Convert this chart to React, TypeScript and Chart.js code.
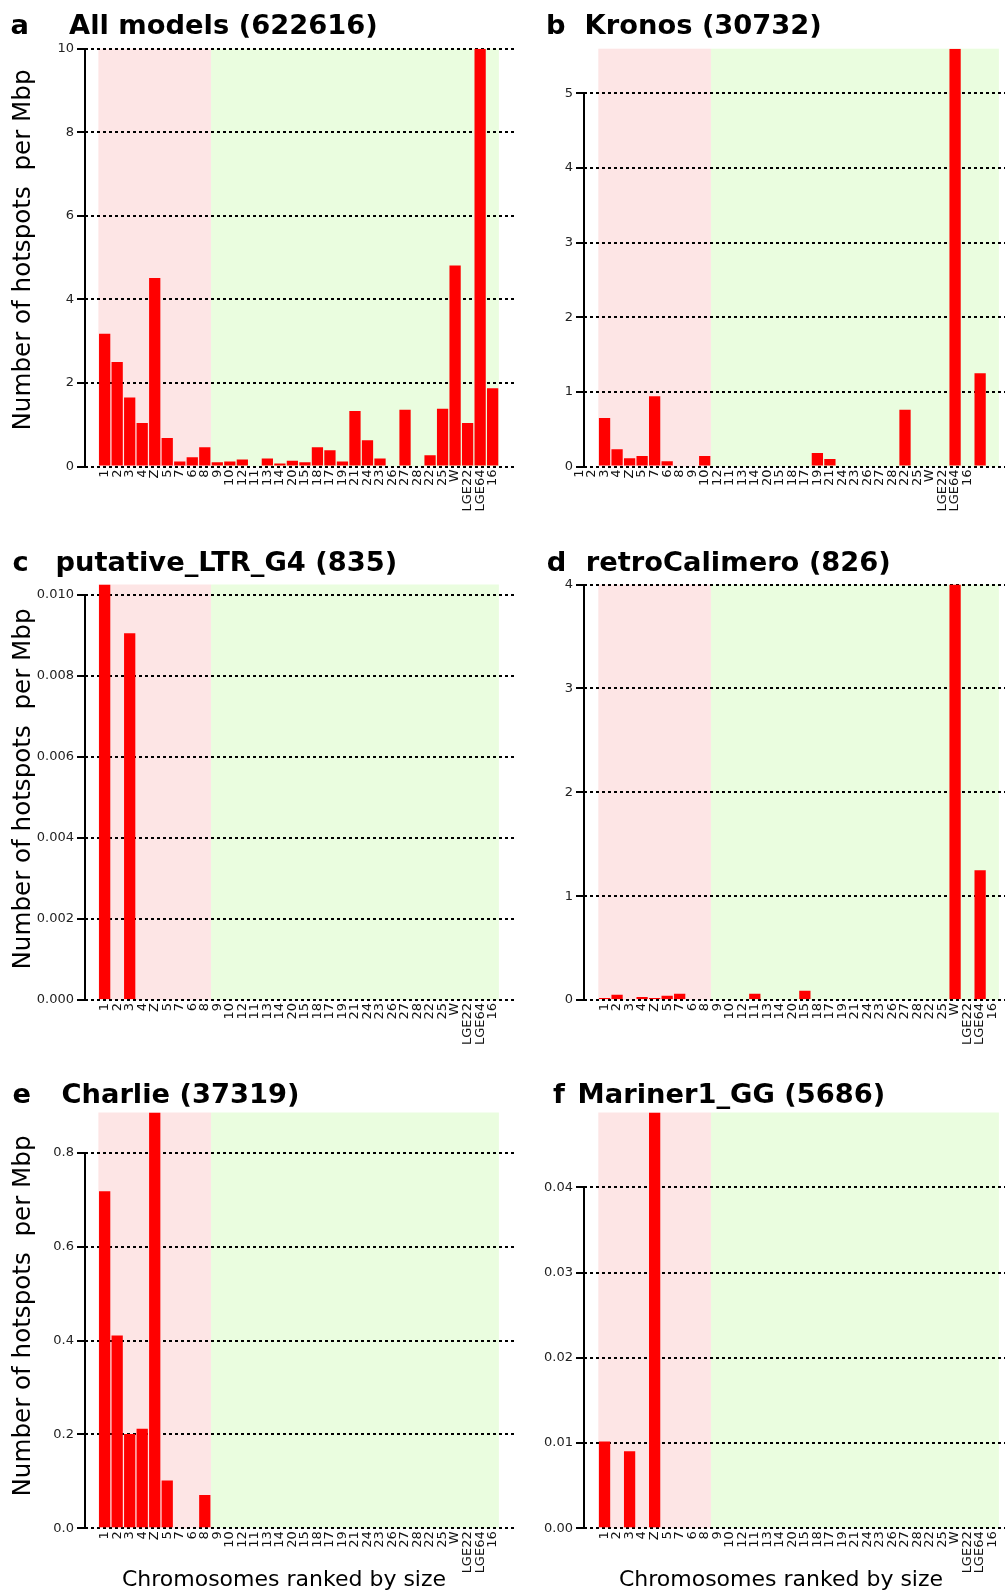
import React, { useEffect, useRef } from "react";
import { Chart, registerables } from "chart.js";

Chart.register(...registerables);
Chart.defaults.font.family = "'DejaVu Sans', Verdana, sans-serif";

// ---------------- data ----------------
const chromosomes = ["1", "2", "3", "4", "Z", "5", "7", "6", "8", "9", "10", "12", "11", "13", "14", "20", "15", "18", "17", "19", "21", "24", "23", "26", "27", "28", "22", "25", "W", "LGE22", "LGE64", "16"];
const macroChromosomeCount = 9; // pink zone: 1 .. 8 (incl. Z)

const panelLetters = ["a", "b", "c", "d", "e", "f"];
const panelNames = ["All models (622616)", "Kronos (30732)", "putative_LTR_G4 (835)", "retroCalimero (826)", "Charlie (37319)", "Mariner1_GG (5686)"];

const yAxisTitle = "Number of hotspots  per Mbp";
const xAxisTitle = "Chromosomes ranked by size";

const allModelsValues = [3.18, 2.5, 1.65, 1.04, 4.51, 0.68, 0.12, 0.22, 0.46, 0.1, 0.12, 0.17, 0, 0.19, 0.07, 0.14, 0.1, 0.46, 0.39, 0.12, 1.33, 0.63, 0.19, 0, 1.36, 0, 0.27, 1.38, 4.81, 1.04, 10, 1.87];
const kronosValues = [0.65, 0.23, 0.11, 0.14, 0.94, 0.07, 0, 0, 0.14, 0, 0, 0, 0, 0, 0, 0, 0, 0.18, 0.1, 0, 0, 0, 0, 0, 0.76, 0, 0, 0, 5.6, 0, 1.25, 0];
const putativeLtrG4Values = [0.01025, 0, 0.00905, 0, 0, 0, 0, 0, 0, 0, 0, 0, 0, 0, 0, 0, 0, 0, 0, 0, 0, 0, 0, 0, 0, 0, 0, 0, 0, 0, 0, 0];
const retroCalimeroValues = [0.02, 0.05, 0.01, 0.03, 0.02, 0.04, 0.06, 0, 0, 0, 0, 0, 0.06, 0, 0, 0, 0.09, 0, 0, 0, 0, 0, 0, 0, 0, 0, 0, 0, 4.0, 0, 1.25, 0];
const charlieValues = [0.718, 0.411, 0.201, 0.212, 0.886, 0.102, 0, 0, 0.071, 0, 0, 0, 0, 0, 0, 0, 0, 0, 0, 0, 0, 0, 0, 0, 0, 0, 0, 0, 0, 0, 0, 0];
const mariner1GgValues = [0.0102, 0, 0.00905, 0, 0.0488, 0, 0, 0, 0, 0, 0, 0, 0, 0, 0, 0, 0, 0, 0, 0, 0, 0, 0, 0, 0, 0, 0, 0, 0, 0, 0, 0];

const allModelsTicks = [0, 2, 4, 6, 8, 10];
const allModelsTickLabels = ["0", "2", "4", "6", "8", "10"];
const kronosTicks = [0, 1, 2, 3, 4, 5];
const kronosTickLabels = ["0", "1", "2", "3", "4", "5"];
const putativeTicks = [0, 0.002, 0.004, 0.006, 0.008, 0.01];
const putativeTickLabels = ["0.000", "0.002", "0.004", "0.006", "0.008", "0.010"];
const retroTicks = [0, 1, 2, 3, 4];
const retroTickLabels = ["0", "1", "2", "3", "4"];
const charlieTicks = [0, 0.2, 0.4, 0.6, 0.8];
const charlieTickLabels = ["0.0", "0.2", "0.4", "0.6", "0.8"];
const marinerTicks = [0, 0.01, 0.02, 0.03, 0.04];
const marinerTickLabels = ["0.00", "0.01", "0.02", "0.03", "0.04"];

const yMaxes = [10, 5.6, 0.01025, 4, 0.886, 0.0488];

// ---------------- layout ----------------
const COLS = [
  { canvasLeft: 0, width: 520, axisX: 85, bandLeft: 98.4, bandRight: 498.9, gridEnd: 516 },
  { canvasLeft: 520, width: 510, axisX: 584, bandLeft: 598.3, bandRight: 998.9, gridEnd: 1005 },
];
const ROWS = [
  { canvasTop: 0, height: 530, plotTop: 48.7, plotBottom: 466.5 },
  { canvasTop: 530, height: 530, plotTop: 584.5, plotBottom: 1000 },
  { canvasTop: 1060, height: 560, plotTop: 1112.5, plotBottom: 1528.3 },
];

const PINK = "rgb(253,229,229)";
const GREEN = "rgb(234,253,223)";

const bgPlugin = {
  id: "zones",
  beforeDraw(chart: any) {
    const { ctx, chartArea } = chart;
    const x = chart.scales.x;
    const y = chart.scales.y;
    const top = chartArea.top;
    const bottom = y.getPixelForValue(0);
    const l = x.getPixelForValue(-0.5);
    const m = x.getPixelForValue(macroChromosomeCount - 0.5);
    const r = x.getPixelForValue(chromosomes.length - 0.5);
    ctx.save();
    ctx.fillStyle = PINK;
    ctx.fillRect(l, top, m - l, bottom - top);
    ctx.fillStyle = GREEN;
    ctx.fillRect(m, top, r - m, bottom - top);
    ctx.restore();
  },
};

const axisPlugin = {
  id: "yAxisLine",
  afterDatasetsDraw(chart: any) {
    const { ctx, chartArea } = chart;
    const y = chart.scales.y;
    const ticks = y.ticks;
    const yTop = y.getPixelForValue(ticks[ticks.length - 1].value);
    const y0 = y.getPixelForValue(0);
    const x = Math.round(chartArea.left);
    ctx.save();
    ctx.strokeStyle = "#000";
    ctx.lineWidth = 2;
    ctx.beginPath();
    ctx.moveTo(x, Math.round(yTop) - 1);
    ctx.lineTo(x, Math.round(y0) + 1);
    ctx.stroke();
    ctx.restore();
  },
};

type PanelProps = {
  values: number[];
  yMax: number;
  yTicks: number[];
  yTickLabels: string[];
  labelShift: number;
  col: number;
  row: number;
};

function Panel(p: PanelProps) {
  const ref = useRef<HTMLCanvasElement>(null);
  const c = COLS[p.col];
  const r = ROWS[p.row];
  useEffect(() => {
    const w = (c.bandRight - c.bandLeft) / chromosomes.length;
    const xMin = (c.axisX - c.bandLeft) / w - 0.5;
    const xMax = (c.gridEnd - c.bandLeft) / w - 0.5;
    const chart = new Chart(ref.current as HTMLCanvasElement, {
      type: "bar",
      data: {
        datasets: [
          {
            data: p.values.map((v, i) => ({ x: i, y: v })) as any,
            backgroundColor: "#ff0000",
            borderWidth: 0,
            barPercentage: 0.9,
            categoryPercentage: 1,
            clip: 0 as any,
          },
        ],
      },
      options: {
        responsive: false,
        animation: false,
        devicePixelRatio: 1,
        events: [],
        layout: {
          padding: { left: 0, top: r.plotTop - r.canvasTop, right: c.canvasLeft + c.width - c.gridEnd, bottom: 0 },
        },
        plugins: { legend: { display: false }, tooltip: { enabled: false }, title: { display: false } },
        scales: {
          x: {
            type: "linear",
            bounds: "data",
            min: xMin,
            max: xMax,
            offset: false,
            grid: { display: false, drawTicks: false },
            border: { display: false },
            afterBuildTicks: (s: any) => {
              s.ticks = chromosomes.map((_, i) => ({ value: i + p.labelShift }));
            },
            afterFit: (s: any) => {
              s.height = r.canvasTop + r.height - r.plotBottom;
            },
            ticks: {
              autoSkip: false,
              minRotation: 90,
              maxRotation: 90,
              padding: 3,
              color: "#111",
              font: { size: 13 },
              callback: (_v: any, i: number) => chromosomes[i],
            },
          },
          y: {
            type: "linear",
            bounds: "data",
            min: 0,
            max: p.yMax,
            grid: {
              display: true,
              color: "#000",
              lineWidth: 2,
              drawTicks: true,
              tickLength: 8,
              tickColor: "#000",
              tickWidth: 2,
            },
            border: { display: false, dash: [3, 3] },
            afterBuildTicks: (s: any) => {
              s.ticks = p.yTicks.map((v) => ({ value: v }));
            },
            afterFit: (s: any) => {
              s.width = c.axisX - c.canvasLeft;
            },
            ticks: {
              padding: 3,
              color: "#222",
              font: { size: 13 },
              callback: (_v: any, i: number) => p.yTickLabels[i],
            },
          },
        },
      },
      plugins: [bgPlugin, axisPlugin],
    } as any);
    return () => chart.destroy();
  }, []);
  return (
    <canvas
      ref={ref}
      width={c.width}
      height={r.height}
      style={{ position: "absolute", left: c.canvasLeft, top: r.canvasTop }}
    />
  );
}

const panels: PanelProps[] = [
  { values: allModelsValues, yMax: yMaxes[0], yTicks: allModelsTicks, yTickLabels: allModelsTickLabels, labelShift: 0, col: 0, row: 0 },
  { values: kronosValues, yMax: yMaxes[1], yTicks: kronosTicks, yTickLabels: kronosTickLabels, labelShift: -2, col: 1, row: 0 },
  { values: putativeLtrG4Values, yMax: yMaxes[2], yTicks: putativeTicks, yTickLabels: putativeTickLabels, labelShift: 0, col: 0, row: 1 },
  { values: retroCalimeroValues, yMax: yMaxes[3], yTicks: retroTicks, yTickLabels: retroTickLabels, labelShift: 0, col: 1, row: 1 },
  { values: charlieValues, yMax: yMaxes[4], yTicks: charlieTicks, yTickLabels: charlieTickLabels, labelShift: 0, col: 0, row: 2 },
  { values: mariner1GgValues, yMax: yMaxes[5], yTicks: marinerTicks, yTickLabels: marinerTickLabels, labelShift: 0, col: 1, row: 2 },
];

// title placement (letter x, name x) per panel, and row tops
const letterX = [10.6, 546, 12.6, 546.7, 12.6, 553];
const nameX = [69, 584.6, 55.5, 585.8, 61.5, 577.6];
const titleTops = [11, 548, 1079.5];
const yTitleCenters = [250, 788.5, 1316];
const xTitleCenters = [284, 781];
const xTitleY = 1579.4;

const FONT = "'DejaVu Sans', Verdana, sans-serif";

export default function App() {
  return (
    <div
      style={{
        position: "absolute",
        left: 0,
        top: 0,
        width: 1005,
        height: 1590,
        overflow: "hidden",
        background: "#fff",
        fontFamily: FONT,
        color: "#000",
      }}
    >
      {panels.map((p, i) => (
        <Panel key={i} {...p} />
      ))}
      {panels.map((p, i) => (
        <React.Fragment key={"t" + i}>
          <div
            style={{
              position: "absolute",
              left: letterX[i],
              top: titleTops[p.row],
              fontSize: 27.3,
              lineHeight: "27px",
              fontWeight: "bold",
              whiteSpace: "nowrap",
            }}
          >
            {panelLetters[i]}
          </div>
          <div
            style={{
              position: "absolute",
              left: nameX[i],
              top: titleTops[p.row],
              fontSize: 27.3,
              lineHeight: "27px",
              fontWeight: "bold",
              whiteSpace: "nowrap",
            }}
          >
            {panelNames[i]}
          </div>
        </React.Fragment>
      ))}
      {yTitleCenters.map((cy, i) => (
        <div
          key={"y" + i}
          style={{
            position: "absolute",
            left: 22,
            top: cy,
            fontSize: 24.6,
            lineHeight: "24px",
            whiteSpace: "pre",
            transform: "translate(-50%, -50%) rotate(-90deg)",
          }}
        >
          {yAxisTitle}
        </div>
      ))}
      {xTitleCenters.map((cx, i) => (
        <div
          key={"x" + i}
          style={{
            position: "absolute",
            left: cx,
            top: xTitleY,
            fontSize: 22,
            lineHeight: "22px",
            whiteSpace: "pre",
            transform: "translate(-50%, -50%)",
          }}
        >
          {xAxisTitle}
        </div>
      ))}
    </div>
  );
}
